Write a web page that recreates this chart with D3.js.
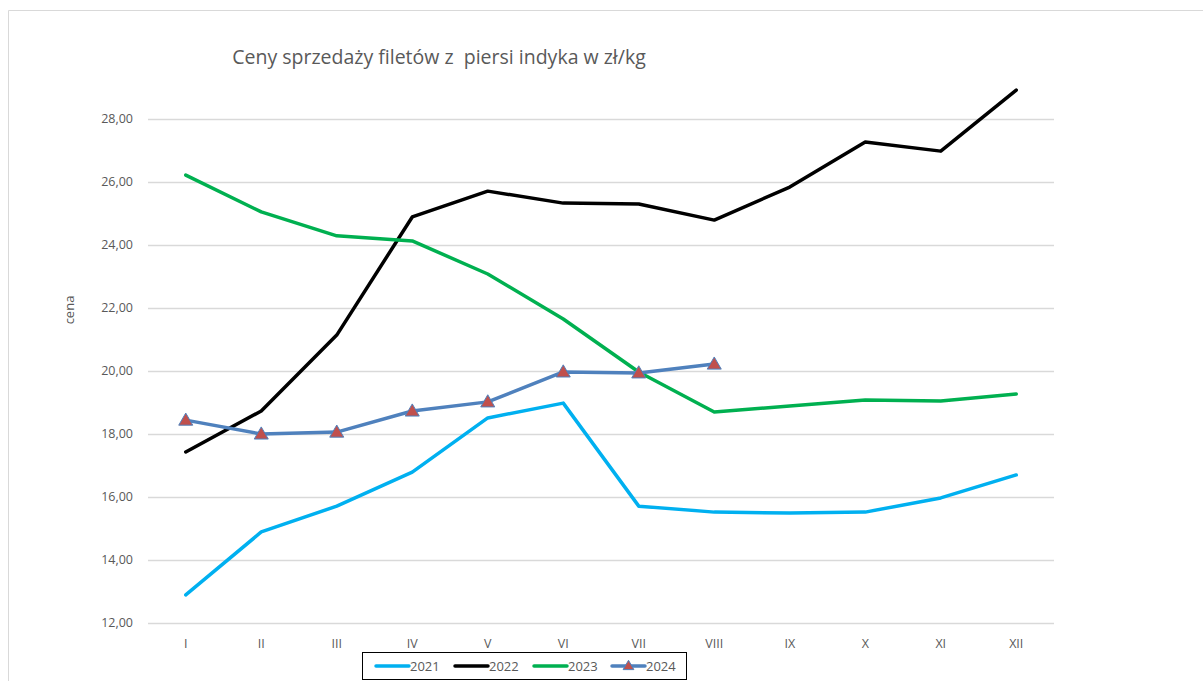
<!DOCTYPE html>
<html>
<head>
<meta charset="utf-8">
<script src="https://cdn.jsdelivr.net/npm/d3@7"></script>
<style>
  body { margin: 0; background: #fff; }
  svg { display: block; font-family: "Open Sans", "Liberation Sans", sans-serif; }
</style>
</head>
<body>
<svg id="chart" width="1203" height="681"></svg>
<script>
const months = ['I', 'II', 'III', 'IV', 'V', 'VI', 'VII', 'VIII', 'IX', 'X', 'XI', 'XII'];
const yTicks = [12, 14, 16, 18, 20, 22, 24, 26, 28];

const s2021 = [12.89, 14.89, 15.71, 16.79, 18.51, 18.98, 15.71, 15.52, 15.49, 15.52, 15.97, 16.70];
const s2022 = [17.43, 18.73, 21.14, 24.89, 25.71, 25.33, 25.30, 24.79, 25.84, 27.27, 26.98, 28.92];
const s2023 = [26.22, 25.05, 24.29, 24.13, 23.08, 21.65, 19.97, 18.70, 18.89, 19.08, 19.05, 19.27];
const s2024 = [18.44, 18.00, 18.06, 18.73, 19.02, 19.97, 19.94, 20.22];

const series = [
    { name: '2021', values: s2021, color: '#00b0f0', marker: false },
    { name: '2022', values: s2022, color: '#000000', marker: false },
    { name: '2023', values: s2023, color: '#00b050', marker: false },
    { name: '2024', values: s2024, color: '#4f81bd', marker: true }
];

const svg = d3.select('#chart');
const margens = { left: 148, right: 149, top: 119, bottom: 58 };
const width = 1203;
const innerWidth = width - margens.left - margens.right;

// ---- outer frame (only top and left edges are visible)
svg.append('path')
    .attr('d', 'M8.5,681 V10.5 H1203')
    .attr('fill', 'none').attr('stroke', '#d9d9d9');

const x = d3.scaleBand()
    .domain(months)
    .range([margens.left, margens.left + innerWidth]);

const y = d3.scaleLinear()
    .domain([12, 28])
    .range([623, 119]);

// ---- grid
svg.append('g')
    .selectAll('line')
    .data(yTicks).join('line')
    .attr('x1', margens.left).attr('x2', margens.left + innerWidth)
    .attr('y1', d => Math.round(y(d)) + 0.5).attr('y2', d => Math.round(y(d)) + 0.5)
    .attr('stroke', '#d9d9d9').attr('stroke-width', 1.3);

// ---- y labels
svg.append('g')
    .selectAll('text')
    .data(yTicks).join('text')
    .attr('x', 133).attr('y', d => y(d))
    .attr('dy', '0.35em')
    .attr('text-anchor', 'end')
    .attr('font-size', '12.5px').attr('fill', '#595959')
    .text(d => d.toFixed(2).replace('.', ','));

// ---- x labels
svg.append('g')
    .selectAll('text')
    .data(months).join('text')
    .attr('x', d => x(d) + x.bandwidth() / 2).attr('y', 648)
    .attr('text-anchor', 'middle')
    .attr('font-size', '12.5px').attr('fill', '#595959')
    .text(d => d);

svg.append('text')
    .attr('transform', 'translate(74, 310) rotate(-90)')
    .attr('text-anchor', 'middle')
    .attr('font-size', '13px').attr('fill', '#595959')
    .text('cena');

svg.append('text')
    .attr('x', 439).attr('y', 64)
    .attr('text-anchor', 'middle')
    .attr('font-size', '19.5px').attr('fill', '#595959')
    .attr('xml:space', 'preserve')
    .style('white-space', 'pre')
    .text('Ceny sprzedaży filetów z  piersi indyka w zł/kg');

// ---- lines
const line = d3.line()
    .x((d, i) => x(months[i]) + x.bandwidth() / 2)
    .y(d => y(d));

const triangle = d3.symbol().type(d3.symbolTriangle).size(85);
const smallTriangle = d3.symbol().type(d3.symbolTriangle).size(50);

series.forEach(s => {
    svg.append('path')
        .datum(s.values)
        .attr('d', line)
        .attr('fill', 'none')
        .attr('stroke', s.color)
        .attr('stroke-width', 3.5)
        .attr('stroke-linejoin', 'round')
        .attr('stroke-linecap', 'round');
    if (s.marker) {
        svg.append('g')
            .selectAll('path')
            .data(s.values).join('path')
            .attr('d', triangle)
            .attr('transform', (d, i) => `translate(${x(months[i]) + x.bandwidth() / 2}, ${y(d) + 1})`)
            .attr('fill', '#c0504d')
            .attr('stroke', '#4f81bd').attr('stroke-width', 1);
    }
});

// ---- legend
const legend = svg.append('g');
legend.append('rect')
    .attr('x', 362.5).attr('y', 652.5)
    .attr('width', 324).attr('height', 27)
    .attr('fill', '#fff').attr('stroke', '#000').attr('stroke-width', 1);

const legendX = [376, 455, 534, 612];
series.forEach((s, i) => {
    const lx = legendX[i];
    legend.append('line')
        .attr('x1', lx).attr('x2', lx + 33)
        .attr('y1', 666).attr('y2', 666)
        .attr('stroke', s.color).attr('stroke-width', 3.5)
        .attr('stroke-linecap', 'round');
    if (s.marker) {
        legend.append('path')
            .attr('d', smallTriangle)
            .attr('transform', `translate(${lx + 16.5}, 666.5)`)
            .attr('fill', '#c0504d')
            .attr('stroke', '#4f81bd').attr('stroke-width', 1);
    }
    legend.append('text')
        .attr('x', lx + 34).attr('y', 666)
        .attr('dy', '0.35em')
        .attr('font-size', '13px').attr('fill', '#595959')
        .text(s.name);
});
</script>
</body>
</html>
